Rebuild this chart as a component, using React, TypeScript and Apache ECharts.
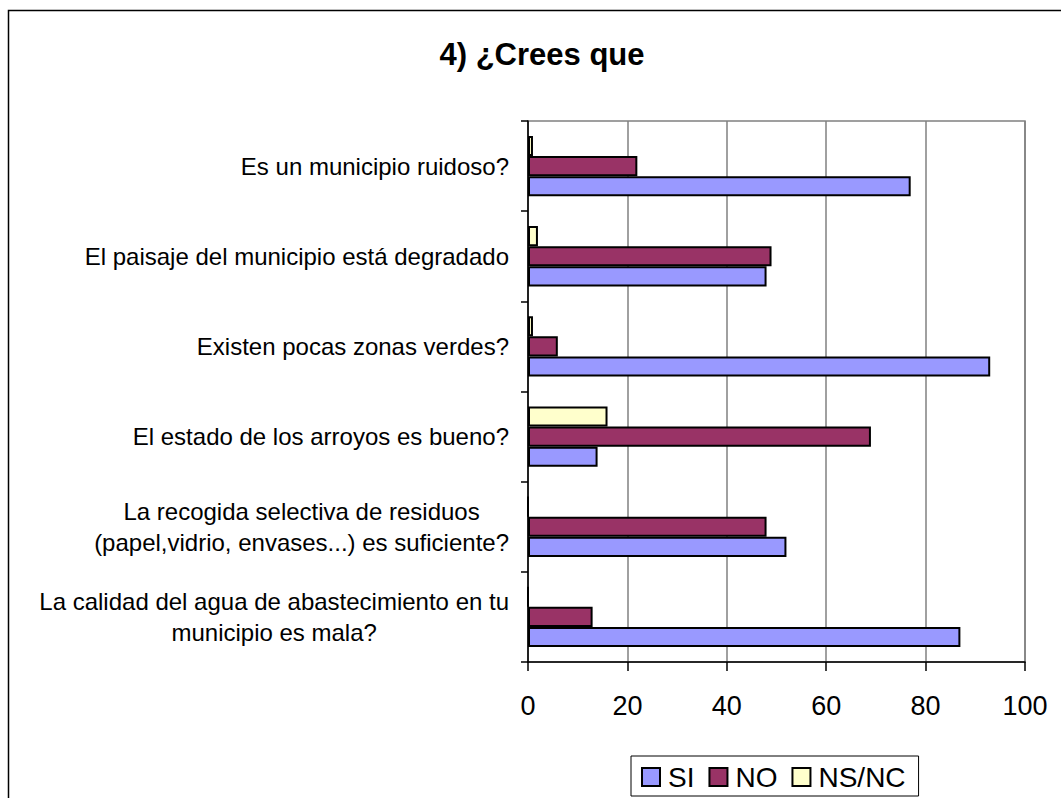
import React, { useEffect, useRef } from "react";
import * as echarts from "echarts";

const categories = [
  "Es un municipio ruidoso?",
  "El paisaje del municipio está degradado",
  "Existen pocas zonas verdes?",
  "El estado de los arroyos es bueno?",
  "La recogida selectiva de residuos\n(papel,vidrio, envases...) es suficiente?",
  "La calidad del agua de abastecimiento en tu\nmunicipio es mala?",
];
const siValues = [77, 48, 93, 14, 52, 87];
const noValues = [22, 49, 6, 69, 48, 13];
const nsncValues = [1, 2, 1, 16, 0, 0];
const xTicks = { min: 0, max: 100, interval: 20 };
const titleText = "4) ¿Crees que";

const FONT = "'Liberation Sans', Arial, Helvetica, sans-serif";

export default function App() {
  const ref = useRef<HTMLDivElement>(null);
  useEffect(() => {
    if (!ref.current) return;
    const chart = echarts.init(ref.current, undefined, { renderer: "svg" });
    const border = { borderColor: "#000", borderWidth: 2 };
    chart.setOption({
      animation: false,
      backgroundColor: "#fff",
      graphic: [
        {
          type: "polyline",
          shape: { points: [[8.5, 798], [8.5, 10.5], [1061, 10.5]] },
          style: { stroke: "#000", lineWidth: 1.5, fill: "none" },
        },
        {
          type: "text",
          x: 542,
          y: 54,
          style: {
            text: titleText,
            font: `bold 31px ${FONT}`,
            fill: "#000",
            align: "center",
            verticalAlign: "middle",
          },
        },
      ],
      grid: { left: 528, top: 121, right: 36, bottom: 136, show: true, borderColor: "#808080", borderWidth: 1.5 },
      legend: {
        data: ["SI", "NO", "NS/NC"],
        left: 631,
        top: 756,
        icon: "rect",
        itemWidth: 18,
        itemHeight: 18,
        itemGap: 14,
        borderColor: "#000",
        borderWidth: 1,
        padding: [7, 13, 5, 10],
        textStyle: { fontSize: 28, color: "#000", fontFamily: FONT, padding: [0, 0, 0, 3] },
      },
      xAxis: {
        type: "value",
        min: xTicks.min,
        max: xTicks.max,
        interval: xTicks.interval,
        axisLine: { show: true, lineStyle: { color: "#000", width: 1.5 } },
        axisTick: { show: true, length: 9, lineStyle: { color: "#000", width: 1.5 } },
        splitLine: { show: true, lineStyle: { color: "#808080", width: 1.5 } },
        axisLabel: { fontSize: 27, color: "#000", fontFamily: FONT, margin: 30 },
      },
      yAxis: {
        type: "category",
        inverse: true,
        data: categories,
        axisLine: { show: true, lineStyle: { color: "#000", width: 1.5 } },
        axisTick: { show: true, length: 7, lineStyle: { color: "#000", width: 1.5 } },
        splitLine: { show: false },
        axisLabel: {
          margin: 19,
          align: "right",
          formatter: (v: string) => v.split("\n").map((l) => `{c|${l}}`).join("\n"),
          rich: {
            c: { align: "center", fontSize: 24, lineHeight: 31, color: "#000", fontFamily: FONT },
          },
        },
      },
      series: [
        { name: "NS/NC", type: "bar", data: nsncValues, barGap: "0%", barCategoryGap: "33%", itemStyle: { color: "#FFFFCC", ...border } },
        { name: "NO", type: "bar", data: noValues, barGap: "0%", barCategoryGap: "33%", itemStyle: { color: "#993366", ...border } },
        { name: "SI", type: "bar", data: siValues, barGap: "0%", barCategoryGap: "33%", itemStyle: { color: "#9999FF", ...border } },
      ],
    });
    return () => chart.dispose();
  }, []);
  return <div ref={ref} style={{ position: "absolute", left: 0, top: 0, width: 1061, height: 798 }} />;
}
